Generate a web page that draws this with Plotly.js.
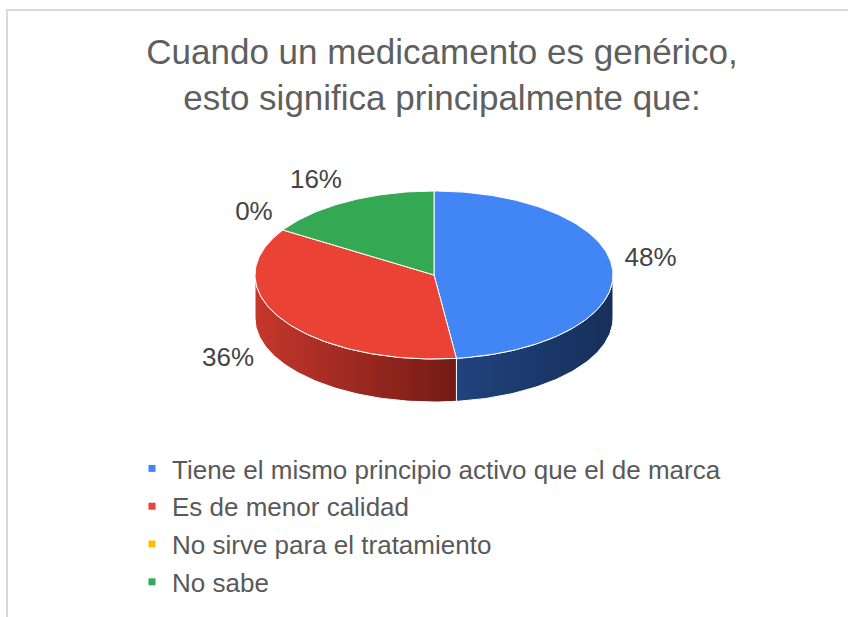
<!DOCTYPE html>
<html>
<head>
<meta charset="utf-8">
<script src="https://cdn.plot.ly/plotly-3.0.1.min.js"></script>
<style>html,body{margin:0;padding:0;background:#fff;}#chart{width:848px;height:617px;}</style>
</head>
<body>
<div id="chart"></div>
<script>
// ---- data ----
const categories = ["Tiene el mismo principio activo que el de marca", "Es de menor calidad", "No sirve para el tratamiento", "No sabe"];
const values = [48, 36, 0, 16];
const percentLabels = ["48%", "36%", "0%", "16%"];
const topColors = ["#4285F4", "#EA4335", "#FBBC04", "#34A853"];
const sideLight = ["#20427E", "#C5372C", "#B48700", "#25793B"];
const sideDark = ["#16305A", "#731B15", "#7A5C00", "#18502A"];
const titleText = "Cuando un medicamento es genérico,<br>esto significa principalmente que:";

// ---- geometry (pixel units via fixed axes) ----
const W = 848, H = 617;
const cx = 434, cy = 275, rx = 179, ry = 84, depth = 43;
const font = '"Liberation Sans", Arial, sans-serif';

function pt(t, dy) { return [cx + rx * Math.sin(t), cy - ry * Math.cos(t) + (dy || 0)]; }
function arc(a, b, dy) {
  const n = Math.max(2, Math.ceil(Math.abs(b - a) / 0.02));
  const xs = [], ys = [];
  for (let i = 0; i <= n; i++) { const p = pt(a + (b - a) * i / n, dy); xs.push(p[0]); ys.push(p[1]); }
  return [xs, ys];
}

const total = values.reduce((s, v) => s + v, 0);
const traces = [];
const tops = [];
let acc = 0;
const labelX = [], labelY = [], labelPos = [], labelTxt = [];
values.forEach((v, i) => {
  const t0 = acc / total * 2 * Math.PI;
  acc += v;
  const t1 = acc / total * 2 * Math.PI;
  // side wall (front half only)
  const a = Math.max(t0, Math.PI / 2), b = Math.min(t1, 3 * Math.PI / 2);
  if (v > 0 && a < b) {
    const [tx, ty] = arc(a, b, 0);
    const [bx, by] = arc(b, a, depth);
    const xs = tx.concat(bx, [tx[0]]), ys = ty.concat(by, [ty[0]]);
    traces.push({
      type: 'scatter', mode: 'lines', x: xs, y: ys, fill: 'toself',
      fillgradient: { type: 'horizontal', colorscale: [[0, sideLight[i]], [1, sideDark[i]]], start: Math.min(...xs), stop: Math.max(...xs) },
      line: { color: '#ffffff', width: 1 }, hoverinfo: 'skip', showlegend: false
    });
  }
  if (v > 0) {
    const [ax, ay] = arc(t0, t1, 0);
    tops.push({
      type: 'scatter', mode: 'lines', x: [cx].concat(ax, [cx]), y: [cy].concat(ay, [cy]), fill: 'toself',
      fillcolor: topColors[i], line: { color: '#ffffff', width: 1 }, name: categories[i],
      hoverinfo: 'name', showlegend: false
    });
  }
  // label
  const m = (t0 + t1) / 2;
  const front = Math.cos(m) < 0;
  const offX = front ? 34 : 12, offY = 16;
  labelX.push(cx + (rx + offX) * Math.sin(m));
  labelY.push(cy - (ry + offY) * Math.cos(m) - 3 - 6 * Math.abs(Math.sin(m)) * (front ? 0 : 1) + (front ? depth * 0.8 : 0));
  labelPos.push(Math.sin(m) >= 0 ? 'middle right' : 'middle left');
  labelTxt.push(percentLabels[i]);
});
traces.push(...tops);
traces.push({
  type: 'scatter', mode: 'text', x: labelX, y: labelY, text: labelTxt, textposition: labelPos,
  textfont: { family: font, size: 26, color: '#444444' }, hoverinfo: 'skip', showlegend: false
});
// legend entries
categories.forEach((c, i) => {
  traces.push({
    type: 'scatter', mode: 'markers', x: [null], y: [null], name: c, legendgroup: 'g' + i,
    marker: { symbol: 'square', size: 7, color: topColors[i] }, hoverinfo: 'skip'
  });
});

const layout = {
  width: W, height: H,
  margin: { l: 0, r: 0, t: 0, b: 0 },
  paper_bgcolor: '#ffffff', plot_bgcolor: '#ffffff',
  xaxis: { range: [0, W], visible: false, fixedrange: true },
  yaxis: { range: [H, 0], visible: false, fixedrange: true },
  title: {
    text: titleText, x: 442 / W, xanchor: 'center', y: 1 - 64 / H, yanchor: 'top', yref: 'container',
    font: { family: font, size: 35, color: '#5f5f5f' }
  },
  showlegend: true,
  legend: {
    x: 132 / W, xanchor: 'left', y: 1 - 445 / H, yanchor: 'top',
    font: { family: font, size: 26, color: '#595959' },
    tracegroupgap: 1, bgcolor: 'rgba(0,0,0,0)', itemclick: false, itemdoubleclick: false
  },
  shapes: [
    { type: 'line', xref: 'paper', yref: 'paper', x0: 6 / W, x1: 1, y0: 1 - 10 / H, y1: 1 - 10 / H, line: { color: '#d9d9d9', width: 2 } },
    { type: 'line', xref: 'paper', yref: 'paper', x0: 7 / W, x1: 7 / W, y0: 0, y1: 1 - 10 / H, line: { color: '#d9d9d9', width: 2 } }
  ]
};

Plotly.newPlot('chart', traces, layout, { displayModeBar: false });
</script>
</body>
</html>
